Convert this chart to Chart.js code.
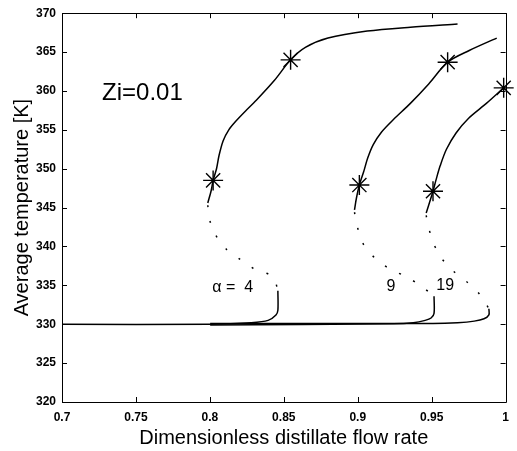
<!DOCTYPE html>
<html>
<head>
<meta charset="utf-8">
<script src="https://cdn.jsdelivr.net/npm/chart.js@4.4.1/dist/chart.umd.min.js"></script>
<style>
  html, body { margin: 0; padding: 0; background: #fff; }
  #wrap { width: 517px; height: 451px; }
</style>
</head>
<body>
<div id="wrap"><canvas id="c" width="517" height="451"></canvas></div>
<script>
// ---- data ----
const xTickValues = [0.7, 0.75, 0.8, 0.85, 0.9, 0.95, 1];
const xTickLabels = ['0.7', '0.75', '0.8', '0.85', '0.9', '0.95', '1'];
const yTickValues = [320, 325, 330, 335, 340, 345, 350, 355, 360, 365, 370];

// alpha = 4
const a4UpperX = [0.7986, 0.8009, 0.8022, 0.8045, 0.8062, 0.8090, 0.8128, 0.8175, 0.8240, 0.8314, 0.8434, 0.8546, 0.8646, 0.8799, 0.9064, 0.9356, 0.9675];
const a4UpperY = [345.6, 347.2, 348.5, 350.0, 351.7, 353.6, 355.0, 356.1, 357.4, 358.8, 361.3, 364.0, 365.6, 366.8, 367.7, 368.2, 368.6];
const a4MidX = [0.7986, 0.7996, 0.8035, 0.8108, 0.8208, 0.8301, 0.8427, 0.8460];
const a4MidY = [345.3, 343.6, 341.6, 339.7, 338.3, 337.1, 336.1, 334.3];
const a4LowerX = [0.8460, 0.8460, 0.8447, 0.8394, 0.8280, 0.8002, 0.7000];
const a4LowerY = [334.3, 331.8, 331.2, 330.5, 330.2, 330.0, 330.0];

// alpha = 9
const a9UpperX = [0.8978, 0.8991, 0.9011, 0.9040, 0.9068, 0.9105, 0.9160, 0.9240, 0.9356, 0.9480, 0.9608, 0.9754, 0.9940];
const a9UpperY = [344.7, 346.2, 347.9, 349.6, 351.4, 353.1, 354.7, 356.3, 358.4, 360.9, 363.7, 365.2, 366.8];
const a9MidX = [0.8978, 0.8998, 0.9038, 0.9117, 0.9217, 0.9330, 0.9436, 0.9516];
const a9MidY = [344.4, 342.5, 340.3, 338.5, 337.1, 336.1, 334.8, 333.6];
const a9LowerX = [0.9516, 0.9516, 0.9496, 0.9456, 0.9376, 0.9243, 0.8002];
const a9LowerY = [333.6, 331.4, 330.8, 330.5, 330.2, 330.05, 329.9];

// alpha = 19
const a19UpperX = [0.9463, 0.9509, 0.9530, 0.9558, 0.9600, 0.9665, 0.9750, 0.9870, 0.9987];
const a19UpperY = [344.3, 347.1, 348.6, 350.4, 352.5, 354.6, 356.5, 358.4, 360.4];
const a19MidX = [0.9463, 0.9476, 0.9509, 0.9562, 0.9648, 0.9741, 0.9827, 0.9887];
const a19MidY = [344.0, 342.7, 340.6, 338.6, 336.8, 335.4, 333.8, 332.0];
const a19LowerX = [0.9887, 0.9887, 0.9854, 0.9788, 0.9675, 0.9509, 0.8002];
const a19LowerY = [332.0, 331.2, 330.7, 330.4, 330.2, 330.1, 330.1];

// star markers (bifurcation points)
const starX = [0.8022, 0.8546, 0.9011, 0.9608, 0.9509, 0.9987];
const starY = [348.5, 364.0, 347.9, 363.7, 347.1, 360.4];

// in-plot text labels
const noteTexts = ['Zi=0.01', '\u03B1 =  4', '9', '19'];
const noteX = [0.7544, 0.8155, 0.9224, 0.9592];
const noteY = [359.7, 334.7, 334.8, 335.0];

// ---- build ----
const pts = (xs, ys) => xs.map((x, i) => ({ x: x, y: ys[i] }));
const FONT = "'Liberation Sans', Arial, Helvetica, sans-serif";

function solid(xs, ys) {
  return { data: pts(xs, ys), borderColor: '#000', borderWidth: 1.5, pointRadius: 0, tension: 0.3, fill: false };
}
function dotted(xs, ys) {
  return { data: pts(xs, ys), borderColor: '#000', borderWidth: 1.5, borderDash: [2, 14], pointRadius: 0, tension: 0.3, fill: false };
}

const datasets = [
  solid(a4UpperX, a4UpperY), dotted(a4MidX, a4MidY), solid(a4LowerX, a4LowerY),
  solid(a9UpperX, a9UpperY), dotted(a9MidX, a9MidY), solid(a9LowerX, a9LowerY),
  solid(a19UpperX, a19UpperY), dotted(a19MidX, a19MidY), solid(a19LowerX, a19LowerY),
  { data: pts(starX, starY), showLine: false, pointStyle: 'star', pointRadius: 10, pointBorderWidth: 1.4,
    pointBorderColor: '#000', pointBackgroundColor: '#000', clip: false }
];

const framePlugin = {
  id: 'frame',
  afterDatasetsDraw(chart) {
    const { ctx, chartArea: a, scales: { x, y } } = chart;
    ctx.save();
    ctx.strokeStyle = '#000';
    ctx.lineWidth = 1;
    ctx.beginPath();
    ctx.rect(Math.round(a.left) + 0.5, Math.round(a.top) + 0.5, Math.round(a.right - a.left), Math.round(a.bottom - a.top));
    ctx.stroke();
    const L = 5;
    ctx.beginPath();
    xTickValues.forEach(v => {
      const px = Math.round(x.getPixelForValue(v)) + 0.5;
      ctx.moveTo(px, a.bottom); ctx.lineTo(px, a.bottom - L);
      ctx.moveTo(px, a.top); ctx.lineTo(px, a.top + L);
    });
    yTickValues.forEach(v => {
      const py = Math.round(y.getPixelForValue(v)) + 0.5;
      ctx.moveTo(a.left, py); ctx.lineTo(a.left + L, py);
      ctx.moveTo(a.right, py); ctx.lineTo(a.right - L, py);
    });
    ctx.stroke();
    // text notes
    ctx.fillStyle = '#000';
    ctx.textAlign = 'center';
    ctx.textBaseline = 'middle';
    noteTexts.forEach((t, i) => {
      ctx.font = (i === 0 ? '24px ' : '16px ') + FONT;
      ctx.fillText(t, x.getPixelForValue(noteX[i]), y.getPixelForValue(noteY[i]));
    });
    ctx.restore();
  }
};

new Chart(document.getElementById('c'), {
  type: 'line',
  data: { datasets },
  options: {
    responsive: false,
    animation: false,
    devicePixelRatio: 1,
    layout: { padding: { top: 13, right: 3, left: 0, bottom: 0 } },
    plugins: { legend: { display: false }, tooltip: { enabled: false } },
    scales: {
      x: {
        type: 'linear', min: 0.7, max: 1,
        afterBuildTicks: s => { s.ticks = xTickValues.map(v => ({ value: v })); },
        afterFit: s => { s.height = 49; },
        grid: { display: false, drawTicks: false },
        border: { display: false },
        ticks: {
          padding: 8, color: '#000', font: { family: FONT, size: 12, weight: 'bold' }, maxRotation: 0, autoSkip: false,
          callback: v => { const i = xTickValues.findIndex(t => Math.abs(t - v) < 1e-9); return i >= 0 ? xTickLabels[i] : ''; }
        },
        title: { display: true, text: 'Dimensionless distillate flow rate', color: '#000',
                 font: { family: FONT, size: 20 }, padding: { top: 0, bottom: 1 } }
      },
      y: {
        type: 'linear', min: 320, max: 370,
        afterBuildTicks: s => { s.ticks = yTickValues.map(v => ({ value: v })); },
        afterFit: s => { s.width = 62; },
        grid: { display: false, drawTicks: false },
        border: { display: false },
        ticks: { padding: 6, color: '#000', font: { family: FONT, size: 12, weight: 'bold' }, autoSkip: false },
        title: { display: true, text: 'Average temperature [K]', color: '#000',
                 font: { family: FONT, size: 20 }, padding: { top: 10, bottom: 0 } }
      }
    }
  },
  plugins: [framePlugin]
});
</script>
</body>
</html>
